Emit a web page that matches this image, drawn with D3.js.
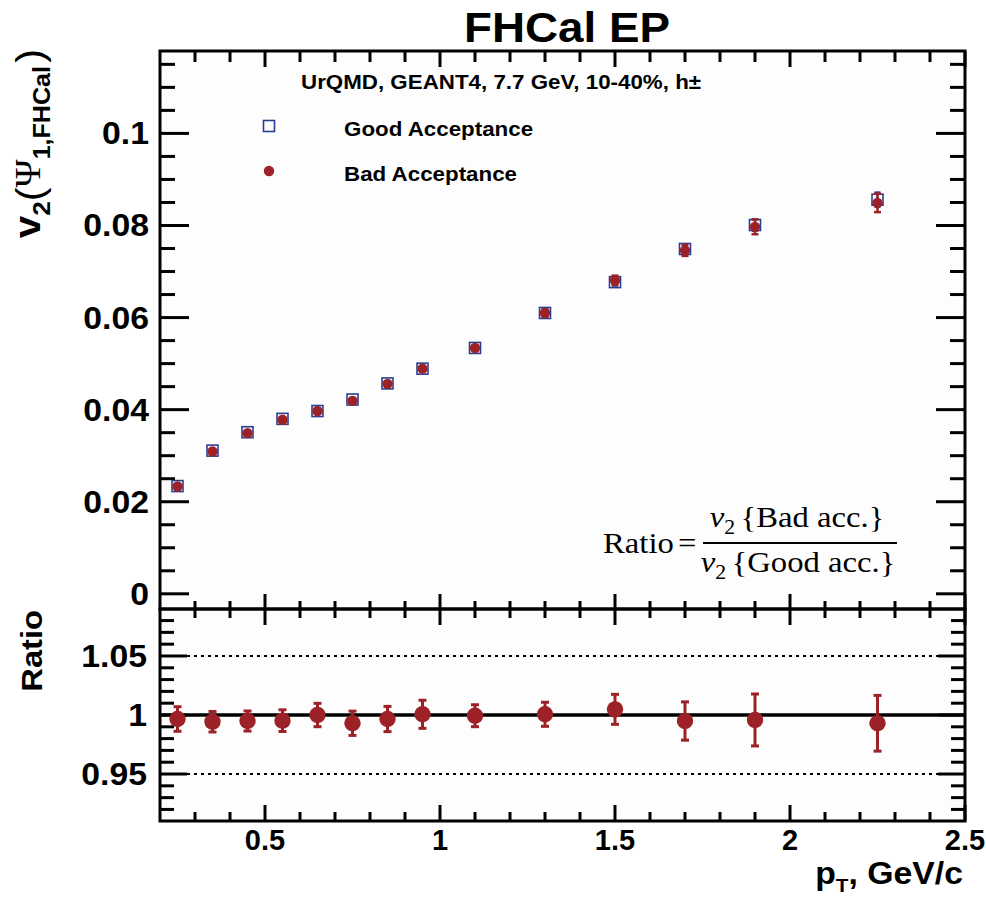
<!DOCTYPE html>
<html><head><meta charset="utf-8">
<script src="https://cdn.jsdelivr.net/npm/d3@7"></script>
<style>body{margin:0;background:#fff}</style>
</head><body><svg id="c" width="986" height="900"></svg>
<script>
// ---- data ----
const pt = [0.25, 0.35, 0.45, 0.55, 0.65, 0.75, 0.85, 0.95, 1.1, 1.3, 1.5, 1.7, 1.9, 2.25];
const v2Good = [0.0234, 0.0311, 0.0351, 0.0380, 0.0397, 0.0422, 0.0457, 0.0489, 0.0534, 0.0610, 0.0677, 0.0749, 0.0801, 0.0856];
const v2GoodErr = [0.0003, 0.0003, 0.0003, 0.0003, 0.0004, 0.0004, 0.0004, 0.0005, 0.0005, 0.0006, 0.0008, 0.0010, 0.0013, 0.0016];
const v2Bad = [0.0233, 0.0309, 0.0349, 0.0378, 0.0397, 0.0419, 0.0456, 0.0489, 0.0534, 0.0610, 0.0681, 0.0746, 0.0797, 0.0849];
const v2BadErr = [0.0003, 0.0003, 0.0003, 0.0004, 0.0004, 0.0004, 0.0005, 0.0005, 0.0006, 0.0008, 0.0010, 0.0012, 0.0016, 0.0020];
const ratio = [0.9966, 0.9943, 0.9949, 0.9952, 1.0000, 0.9930, 0.9966, 1.0006, 0.9994, 1.0006, 1.0048, 0.9949, 0.9958, 0.9930];
const ratioErr = [0.0104, 0.0087, 0.0085, 0.0092, 0.0099, 0.0103, 0.0107, 0.0119, 0.0093, 0.0102, 0.0127, 0.0162, 0.0220, 0.0236];
const xMajor = [0.5, 1, 1.5, 2, 2.5];
const xMinor = [0.3, 0.4, 0.6, 0.7, 0.8, 0.9, 1.1, 1.2, 1.3, 1.4, 1.6, 1.7, 1.8, 1.9, 2.1, 2.2, 2.3, 2.4];
const xTickLabels = ["0.5", "1", "1.5", "2", "2.5"];
const yTopMajor = [0, 0.02, 0.04, 0.06, 0.08, 0.1];
const yTopMinor = [0.005, 0.01, 0.015, 0.025, 0.03, 0.035, 0.045, 0.05, 0.055, 0.065, 0.07, 0.075, 0.085, 0.09, 0.095, 0.105, 0.11, 0.115];
const yTopLabels = ["0", "0.02", "0.04", "0.06", "0.08", "0.1"];
const yBotMajor = [0.95, 1, 1.05];
const yBotMinor = [0.92, 0.93, 0.94, 0.96, 0.97, 0.98, 0.99, 1.01, 1.02, 1.03, 1.04, 1.06, 1.07, 1.08];
const yBotLabels = ["0.95", "1", "1.05"];
const legendLabels = ["Good Acceptance", "Bad Acceptance"];
const headerText = "UrQMD, GEANT4, 7.7 GeV, 10-40%, h\u00b1";

// ---- layout ----
const L = 160, R = 965, T = 51, M = 609, B = 821;
const RED = "#9c2228", BLUE = "#2b3f92";
const SX = 1.09;
const SANS = "'Liberation Sans', Arial, sans-serif";
const SERIF = "'Liberation Serif', 'Times New Roman', serif";

const svg = d3.select("#c");
const x = d3.scaleLinear().domain([0.2, 2.5]).range([L, R]);
const yTop = d3.scaleLinear().domain([-0.0033, 0.1179]).range([M, T]);
const yBot = d3.scaleLinear().domain([0.9102, 1.0898]).range([B, M]);

// very light panel background
svg.append("rect").attr("x", L).attr("y", T).attr("width", R - L).attr("height", B - T).attr("fill", "#fdfdfd");

function txt(px, py, opts) {
  const sx = opts.sx === undefined ? SX : opts.sx;
  const t = svg.append("text")
    .attr("transform", `translate(${px},${py}) rotate(${opts.rot || 0}) scale(${sx},1)`)
    .attr("text-anchor", opts.anchor || "start")
    .attr("font-family", opts.family || SANS)
    .attr("font-weight", opts.weight || "bold")
    .attr("font-size", opts.size)
    .attr("fill", "#000");
  if (opts.text !== undefined) t.text(opts.text);
  return t;
}

// ---- ticks, positioned by the scales ----
const tickG = svg.append("g").attr("stroke", "#000").attr("stroke-width", 3);
function yTicks(scale, vals, xEdge, len) {
  vals.forEach(v => tickG.append("line").attr("x1", xEdge).attr("x2", xEdge + len)
    .attr("y1", scale(v)).attr("y2", scale(v)));
}
function xTicks(vals, yEdge, len) {
  vals.forEach(v => tickG.append("line").attr("x1", x(v)).attr("x2", x(v))
    .attr("y1", yEdge).attr("y2", yEdge + len));
}
yTicks(yTop, yTopMajor, L, 29); yTicks(yTop, yTopMinor, L, 15);
yTicks(yTop, yTopMajor, R, -29); yTicks(yTop, yTopMinor, R, -15);
yTicks(yBot, yBotMajor, L, 27); yTicks(yBot, yBotMinor, L, 14);
yTicks(yBot, yBotMajor, R, -27); yTicks(yBot, yBotMinor, R, -14);
xTicks(xMajor, T, 16); xTicks(xMinor, T, 11);
xTicks(xMajor, M, -15); xTicks(xMinor, M, -8);
xTicks(xMajor, M, 16); xTicks(xMinor, M, 9);
xTicks(xMajor, B, -16); xTicks(xMinor, B, -9);

// frames
svg.append("rect").attr("x", L).attr("y", T).attr("width", R - L).attr("height", M - T)
  .attr("fill", "none").attr("stroke", "#000").attr("stroke-width", 3);
svg.append("rect").attr("x", L).attr("y", M).attr("width", R - L).attr("height", B - M)
  .attr("fill", "none").attr("stroke", "#000").attr("stroke-width", 3);

// tick labels
yTopMajor.forEach((v, i) => txt(149, yTop(v) + 11, { text: yTopLabels[i], size: 31, anchor: "end" }));
yBotMajor.forEach((v, i) => txt(147, yBot(v) + 11, { text: yBotLabels[i], size: 31, anchor: "end" }));
xMajor.forEach((v, i) => txt(x(v), 850, { text: xTickLabels[i], size: 29, anchor: "middle", sx: 1.0 }));

// ---- reference lines in ratio panel ----
svg.append("line").attr("x1", L).attr("x2", R).attr("y1", yBot(1)).attr("y2", yBot(1))
  .attr("stroke", "#000").attr("stroke-width", 3.5);
[1.05, 0.95].forEach(v => svg.append("line").attr("x1", L + 27).attr("x2", R - 2)
  .attr("y1", yBot(v)).attr("y2", yBot(v)).attr("stroke", "#000").attr("stroke-width", 2)
  .attr("stroke-dasharray", "3,4"));

// ---- points ----
function errBars(yScale, vals, errs, color, cap, w) {
  const g = svg.append("g").attr("stroke", color).attr("stroke-width", w);
  pt.forEach((p, i) => {
    const cx = x(p), y1 = yScale(vals[i] - errs[i]), y2 = yScale(vals[i] + errs[i]);
    g.append("line").attr("x1", cx).attr("x2", cx).attr("y1", y1).attr("y2", y2);
    g.append("line").attr("x1", cx - cap).attr("x2", cx + cap).attr("y1", y1).attr("y2", y1);
    g.append("line").attr("x1", cx - cap).attr("x2", cx + cap).attr("y1", y2).attr("y2", y2);
  });
}
errBars(yTop, v2Good, v2GoodErr, BLUE, 3, 2);
svg.append("g").selectAll("rect").data(pt).join("rect")
  .attr("x", (d) => x(d) - 5.5).attr("y", (d, i) => yTop(v2Good[i]) - 5.5)
  .attr("width", 11).attr("height", 11).attr("fill", "none").attr("stroke", BLUE).attr("stroke-width", 1.6);
errBars(yTop, v2Bad, v2BadErr, RED, 3.5, 2.5);
svg.append("g").selectAll("circle").data(pt).join("circle")
  .attr("cx", d => x(d)).attr("cy", (d, i) => yTop(v2Bad[i])).attr("r", 5.2).attr("fill", RED);

errBars(yBot, ratio, ratioErr, RED, 4, 3);
svg.append("g").selectAll("circle").data(pt).join("circle")
  .attr("cx", d => x(d)).attr("cy", (d, i) => yBot(ratio[i])).attr("r", 8.2).attr("fill", RED);

// ---- legend ----
txt(301, 89, { text: headerText, size: 20.5 });
svg.append("rect").attr("x", 263.5).attr("y", 120.5).attr("width", 11).attr("height", 11)
  .attr("fill", "none").attr("stroke", BLUE).attr("stroke-width", 1.6);
txt(344, 136, { text: legendLabels[0], size: 20.5 });
svg.append("circle").attr("cx", 269).attr("cy", 171).attr("r", 5.2).attr("fill", RED);
txt(344, 181, { text: legendLabels[1], size: 20.5 });

// ---- ratio formula ----
txt(603, 553, { text: "Ratio", size: 30, family: SERIF, weight: "normal" });
txt(678, 553, { text: "=", size: 30, family: SERIF, weight: "normal" });
svg.append("line").attr("x1", 703).attr("x2", 897).attr("y1", 543).attr("y2", 543)
  .attr("stroke", "#000").attr("stroke-width", 2);
function fracText(cx, by, word) {
  const t = txt(cx, by, { size: 30, family: SERIF, weight: "normal", anchor: "middle" });
  t.append("tspan").attr("font-style", "italic").text("v");
  t.append("tspan").attr("font-size", 20).attr("dy", 7).text("2");
  t.append("tspan").attr("dy", -7).attr("dx", 5).text("{" + word + "}");
}
fracText(797, 527, "Bad acc.");
fracText(798, 572, "Good acc.");

// ---- titles ----
txt(567, 42, { text: "FHCal EP", size: 42, anchor: "middle" });
{
  const t = txt(40, 49, { size: 37, anchor: "end", rot: -90 });
  t.append("tspan").text("v");
  t.append("tspan").attr("font-size", 24).attr("dy", 10).text("2");
  t.append("tspan").attr("font-size", 38).attr("font-weight", "normal").attr("dy", -7).text("(");
  t.append("tspan").attr("font-family", SERIF).attr("font-weight", "normal").attr("font-size", 35).attr("dy", -3).text("\u03a8");
  t.append("tspan").attr("font-size", 23).attr("dy", 10).text("1,FHCal");
  t.append("tspan").attr("font-size", 38).attr("font-weight", "normal").attr("dy", -7).attr("dx", 3).text(")");
}
txt(42, 610, { text: "Ratio", size: 30, anchor: "end", rot: -90 });
{
  const t = txt(963, 884, { size: 31, anchor: "end" });
  t.append("tspan").text("p");
  t.append("tspan").attr("font-size", 19).attr("dy", 8).text("T");
  t.append("tspan").attr("dy", -8).text(", GeV/c");
}
</script>
</body></html>
